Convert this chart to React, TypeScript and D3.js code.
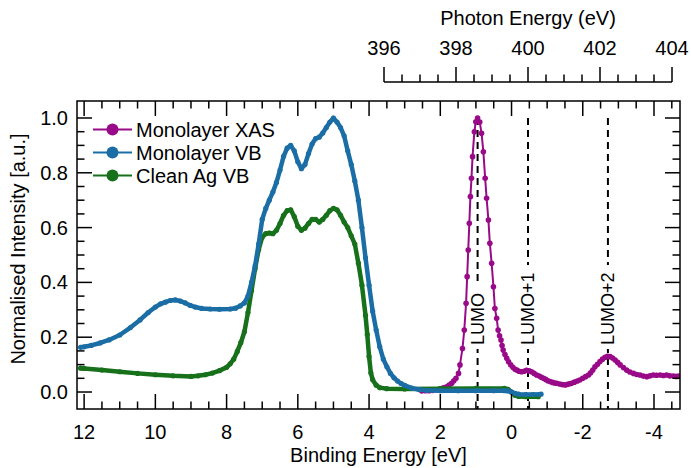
import React from 'react';
import * as d3 from 'd3';

const W = 691, H = 468;
const L = 77, R = 680, T = 101, B = 409;

const beDomain: [number, number] = [12.2, -4.73];
const yDomain: [number, number] = [-0.062, 1.062];
const hvDomain: [number, number] = [396, 404];

const beMajor = [12, 10, 8, 6, 4, 2, 0, -2, -4];
const yMajor = [0, 0.2, 0.4, 0.6, 0.8, 1.0];
const hvMajor = [396, 398, 400, 402, 404];

// Monolayer VB
const vbBE = [12.1, 12.0, 11.8, 11.55, 11.3, 11.0, 10.7, 10.43, 10.2, 10.0, 9.85, 9.72, 9.58, 9.44, 9.3, 9.16, 9.02, 8.88, 8.7, 8.46, 8.2, 7.9, 7.75, 7.62, 7.5, 7.4, 7.3, 7.2, 7.1, 7.0, 6.9, 6.8, 6.7, 6.6, 6.5, 6.4, 6.3, 6.2, 6.1, 6.0, 5.9, 5.8, 5.7, 5.6, 5.5, 5.4, 5.3, 5.2, 5.1, 5.0, 4.9, 4.8, 4.7, 4.6, 4.5, 4.4, 4.3, 4.2, 4.1, 4.0, 3.9, 3.8, 3.7, 3.6, 3.5, 3.4, 3.3, 3.2, 3.1, 3.0, 2.8, 2.6, 2.4, 2.0, 1.5, 1.0, 0.5, 0.2, 0.1, 0.0, -0.1, -0.2, -0.4, -0.6, -0.83];
const vbMono = [0.163, 0.165, 0.17, 0.179, 0.19, 0.208, 0.235, 0.263, 0.29, 0.31, 0.322, 0.328, 0.334, 0.336, 0.332, 0.325, 0.316, 0.31, 0.305, 0.303, 0.302, 0.303, 0.306, 0.314, 0.325, 0.35, 0.4, 0.46, 0.54, 0.63, 0.67, 0.7, 0.73, 0.765, 0.81, 0.86, 0.89, 0.9, 0.88, 0.84, 0.815, 0.83, 0.87, 0.905, 0.925, 0.93, 0.945, 0.965, 0.985, 1.0, 0.985, 0.965, 0.935, 0.88, 0.83, 0.77, 0.7, 0.6, 0.49, 0.39, 0.295, 0.226, 0.165, 0.12, 0.092, 0.068, 0.052, 0.04, 0.031, 0.024, 0.014, 0.009, 0.006, 0.005, 0.005, 0.005, 0.005, 0.005, 0.004, 0.0, -0.005, -0.008, -0.009, -0.009, -0.008];

// Clean Ag VB
const agBE = [12.1, 12.0, 11.5, 11.0, 10.5, 10.0, 9.5, 9.0, 8.8, 8.6, 8.4, 8.2, 8.0, 7.9, 7.8, 7.7, 7.6, 7.5, 7.4, 7.3, 7.2, 7.1, 7.0, 6.9, 6.8, 6.7, 6.6, 6.5, 6.4, 6.3, 6.2, 6.1, 6.0, 5.9, 5.8, 5.7, 5.6, 5.5, 5.4, 5.3, 5.2, 5.1, 5.0, 4.9, 4.8, 4.7, 4.6, 4.5, 4.4, 4.3, 4.2, 4.1, 4.05, 4.0, 3.95, 3.9, 3.8, 3.7, 3.5, 3.0, 2.0, 1.0, 0.2, 0.1, 0.0, -0.1, -0.2, -0.4, -0.75];
const agClean = [0.087, 0.086, 0.08, 0.074, 0.068, 0.063, 0.059, 0.057, 0.059, 0.063, 0.069, 0.078, 0.09, 0.103, 0.12, 0.148, 0.18, 0.22, 0.29, 0.37, 0.45, 0.52, 0.565, 0.578, 0.58, 0.578, 0.59, 0.615, 0.645, 0.662, 0.665, 0.64, 0.605, 0.59, 0.598, 0.615, 0.63, 0.63, 0.62, 0.63, 0.645, 0.662, 0.67, 0.665, 0.645, 0.62, 0.6, 0.57, 0.54, 0.47, 0.39, 0.28, 0.21, 0.13, 0.07, 0.045, 0.025, 0.016, 0.012, 0.011, 0.012, 0.013, 0.013, 0.01, 0.0, -0.012, -0.016, -0.017, -0.017];

// Monolayer XAS (photon energy)
const xasHV = [397.05, 397.15, 397.25, 397.35, 397.45, 397.55, 397.65, 397.74, 397.81, 397.88, 397.94, 398.0, 398.07, 398.11, 398.18, 398.23, 398.28, 398.31, 398.34, 398.37, 398.4, 398.43, 398.46, 398.51, 398.55, 398.6, 398.66, 398.71, 398.76, 398.81, 398.85, 398.9, 398.94, 398.99, 399.04, 399.08, 399.13, 399.17, 399.21, 399.25, 399.28, 399.31, 399.36, 399.41, 399.46, 399.52, 399.58, 399.64, 399.69, 399.75, 399.82, 399.89, 399.96, 400.03, 400.1, 400.17, 400.24, 400.31, 400.37, 400.43, 400.49, 400.55, 400.61, 400.68, 400.74, 400.8, 400.88, 400.95, 401.03, 401.1, 401.16, 401.21, 401.29, 401.37, 401.44, 401.52, 401.6, 401.68, 401.74, 401.8, 401.86, 401.93, 402.0, 402.07, 402.14, 402.21, 402.28, 402.35, 402.42, 402.49, 402.56, 402.65, 402.74, 402.83, 402.93, 403.02, 403.11, 403.2, 403.3, 403.39, 403.48, 403.57, 403.67, 403.76, 403.85, 403.94, 404.04, 404.13, 404.2];
const xasVal = [0.004, 0.005, 0.005, 0.006, 0.008, 0.011, 0.015, 0.019, 0.025, 0.032, 0.041, 0.05, 0.068, 0.099, 0.159, 0.226, 0.324, 0.421, 0.518, 0.616, 0.713, 0.78, 0.859, 0.95, 0.986, 1.0, 0.985, 0.944, 0.877, 0.78, 0.707, 0.628, 0.543, 0.47, 0.384, 0.305, 0.269, 0.226, 0.205, 0.19, 0.17, 0.153, 0.137, 0.123, 0.11, 0.099, 0.09, 0.083, 0.08, 0.076, 0.074, 0.076, 0.079, 0.077, 0.074, 0.068, 0.062, 0.058, 0.054, 0.05, 0.046, 0.041, 0.038, 0.035, 0.033, 0.032, 0.029, 0.027, 0.026, 0.028, 0.03, 0.032, 0.036, 0.04, 0.044, 0.05, 0.056, 0.062, 0.07, 0.08, 0.092, 0.101, 0.111, 0.12, 0.127, 0.13, 0.129, 0.124, 0.117, 0.108, 0.099, 0.089, 0.08, 0.073, 0.068, 0.064, 0.062, 0.058, 0.056, 0.059, 0.062, 0.061, 0.062, 0.06, 0.062, 0.059, 0.058, 0.057, 0.058];

const lumoHV = [398.6, 400.0, 402.22];
const lumoLabels = ['LUMO', 'LUMO+1', 'LUMO+2'];

const legendNames = ['Monolayer XAS', 'Monolayer VB', 'Clean Ag VB'];

const C_XAS = '#990a88';
const C_VB = '#1b6ea5';
const C_AG = '#17701a';

const FONT = '"Liberation Sans", Arial, Helvetica, sans-serif';

export default function App() {
  const x = d3.scaleLinear().domain(beDomain).range([L, R]);
  const y = d3.scaleLinear().domain(yDomain).range([B, T]);
  const xhv = d3.scaleLinear().domain(hvDomain).range([384, 672]);

  const lineBE = d3.line<[number, number]>().x(d => x(d[0])).y(d => y(d[1]));
  const lineHV = d3.line<[number, number]>().x(d => xhv(d[0])).y(d => y(d[1]));

  const vb: [number, number][] = vbBE.map((b, i) => [b, vbMono[i]]);
  const ag: [number, number][] = agBE.map((b, i) => [b, agClean[i]]);
  const xas: [number, number][] = xasHV.map((h, i) => [h, xasVal[i]]);

  const beMinor = d3.range(-4.5, 12.01, 0.5).filter(v => !beMajor.some(m => Math.abs(m - v) < 1e-6));
  const yMinor = d3.range(0.05, 1.0, 0.05).filter(v => !yMajor.some(m => Math.abs(m - v) < 1e-6));
  const hvMinor = d3.range(396.5, 404, 0.5).filter(v => !hvMajor.some(m => Math.abs(m - v) < 1e-6));

  const MAJ = 15, MIN = 7.5;
  const tickW = 1.5;
  const fmtY = d3.format('.1f');
  const legendY = [129.5, 152.5, 175.5];
  const legendColors = [C_XAS, C_VB, C_AG];
  const lumoLen = [54, 72, 72];

  return (
    <svg width={W} height={H} style={{ position: 'absolute', left: 0, top: 0, background: '#fff' }} fontFamily={FONT}>
      <defs>
        <clipPath id="plotclip">
          <rect x={L} y={T} width={R - L} height={B - T} />
        </clipPath>
      </defs>
      <rect x={0} y={0} width={W} height={H} fill="#fff" />

      {/* dashed LUMO lines */}
      {lumoHV.map((h, i) => (
        <g key={'lumo' + i}>
          <line x1={xhv(h)} x2={xhv(h)} y1={y(1.0)} y2={B} stroke="#000" strokeWidth={2} strokeDasharray="7,5" />
          <rect x={xhv(h) - 8} y={345 - lumoLen[i] - 8} width={16} height={lumoLen[i] + 12} fill="#fff" />
          <text x={xhv(h)} y={345} transform={`rotate(-90 ${xhv(h)} 345)`} fontSize={18} dominantBaseline="central" textAnchor="start" fill="#000">{lumoLabels[i]}</text>
        </g>
      ))}

      <g clipPath="url(#plotclip)">
        {/* XAS */}
        <path d={lineHV(xas) || ''} fill="none" stroke={C_XAS} strokeWidth={2} />
        {xas.map((d, i) => (
          <circle key={'x' + i} cx={xhv(d[0])} cy={y(d[1])} r={2.8} fill={C_XAS} />
        ))}
        {/* Clean Ag */}
        <path d={lineBE(ag) || ''} fill="none" stroke={C_AG} strokeWidth={4.5} strokeLinejoin="round" />
        {ag.map((d, i) => (
          <circle key={'a' + i} cx={x(d[0])} cy={y(d[1])} r={2.6} fill={C_AG} />
        ))}
        {/* Monolayer VB */}
        <path d={lineBE(vb) || ''} fill="none" stroke={C_VB} strokeWidth={4.5} strokeLinejoin="round" />
        {vb.map((d, i) => (
          <circle key={'v' + i} cx={x(d[0])} cy={y(d[1])} r={2.6} fill={C_VB} />
        ))}
      </g>

      {/* frame */}
      <rect x={L} y={T} width={R - L} height={B - T} fill="none" stroke="#000" strokeWidth={1.5} />

      {/* bottom & top ticks */}
      {beMajor.map(v => (
        <g key={'bm' + v}>
          <line x1={x(v)} x2={x(v)} y1={B} y2={B - MAJ} stroke="#000" strokeWidth={tickW} />
          <line x1={x(v)} x2={x(v)} y1={T} y2={T + MAJ} stroke="#000" strokeWidth={tickW} />
          <text x={x(v)} y={439} fontSize={20} textAnchor="middle" fill="#000">{String(v)}</text>
        </g>
      ))}
      {beMinor.map(v => (
        <g key={'bn' + v}>
          <line x1={x(v)} x2={x(v)} y1={B} y2={B - MIN} stroke="#000" strokeWidth={tickW} />
          <line x1={x(v)} x2={x(v)} y1={T} y2={T + MIN} stroke="#000" strokeWidth={tickW} />
        </g>
      ))}

      {/* left & right ticks */}
      {yMajor.map(v => (
        <g key={'ym' + v}>
          <line x1={L} x2={L + MAJ} y1={y(v)} y2={y(v)} stroke="#000" strokeWidth={tickW} />
          <line x1={R} x2={R - MAJ} y1={y(v)} y2={y(v)} stroke="#000" strokeWidth={tickW} />
          <text x={68} y={y(v)} fontSize={20} textAnchor="end" dominantBaseline="central" fill="#000">{fmtY(v)}</text>
        </g>
      ))}
      {yMinor.map(v => (
        <g key={'yn' + v}>
          <line x1={L} x2={L + MIN} y1={y(v)} y2={y(v)} stroke="#000" strokeWidth={tickW} />
          <line x1={R} x2={R - MIN} y1={y(v)} y2={y(v)} stroke="#000" strokeWidth={tickW} />
        </g>
      ))}

      {/* photon energy axis */}
      <line x1={xhv(396)} x2={xhv(404)} y1={82} y2={82} stroke="#000" strokeWidth={1.5} />
      {hvMajor.map(v => (
        <g key={'hm' + v}>
          <line x1={xhv(v)} x2={xhv(v)} y1={82} y2={82 - MAJ} stroke="#000" strokeWidth={tickW} />
          <text x={xhv(v)} y={55} fontSize={20} textAnchor="middle" fill="#000">{String(v)}</text>
        </g>
      ))}
      {hvMinor.map(v => (
        <line key={'hn' + v} x1={xhv(v)} x2={xhv(v)} y1={82} y2={82 - MIN} stroke="#000" strokeWidth={tickW} />
      ))}

      {/* axis titles */}
      <text x={(384 + 672) / 2} y={25} fontSize={20} textAnchor="middle" fill="#000">Photon Energy (eV)</text>
      <text x={(L + R) / 2} y={462} fontSize={20} textAnchor="middle" fill="#000">Binding Energy [eV]</text>
      <text x={18} y={249} transform="rotate(-90 18 249)" fontSize={20} textAnchor="middle" dominantBaseline="central" fill="#000">Normalised Intensity [a.u.]</text>

      {/* legend */}
      {legendNames.map((n, i) => (
        <g key={'lg' + i}>
          <line x1={93} x2={132} y1={legendY[i]} y2={legendY[i]} stroke={legendColors[i]} strokeWidth={2} />
          <circle cx={112.5} cy={legendY[i]} r={6} fill={legendColors[i]} />
          <text x={136} y={legendY[i]} fontSize={20} dominantBaseline="central" fill="#000">{n}</text>
        </g>
      ))}
    </svg>
  );
}
